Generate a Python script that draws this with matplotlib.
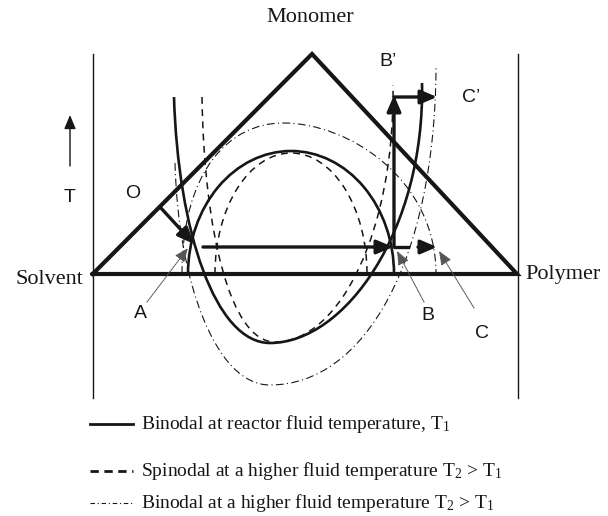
import matplotlib
matplotlib.use("Agg")
import matplotlib.pyplot as plt
from matplotlib.path import Path
from matplotlib.patches import PathPatch, Arc

plt.rcParams['mathtext.fontset'] = 'stix'

# drawing units: x to the right, y downwards (same as the page)
frame_x = [92.7, 518]
frame_y = [54, 398]

triangle = [(92.7, 274), (312, 54), (517, 274)]

# binodal at T1: lower U branch as two cubic segments, upper dome as half ellipse
binodal1_u = [(174, 97), (178, 230), (215, 343), (270, 343),
              (345, 343), (425, 230), (422, 83)]
binodal1_dome = (291, 274, 206, 246)   # centre x, centre y, width, height

# spinodal at T2
spinodal2_u = [(202, 97), (204, 230), (230, 342), (275, 342),
               (340, 342), (395, 230), (393, 85)]
spinodal2_dome = (291, 274, 152, 242)

# binodal at T2
binodal2_u = [(175, 163), (178, 280), (215, 385), (270, 385),
              (365, 385), (435, 260), (436, 68)]
binodal2_dome = [(182, 274), (182, 170), (230, 123), (283, 123),
                 (350, 123), (436, 180), (436, 274)]

# process path arrows (start, end)
path_arrows = [((160, 207), (194, 244)),
               ((203, 247), (393, 247)),
               ((418, 247), (437, 247)),
               ((394, 247), (394, 95)),
               ((394, 97), (437, 97))]
path_segments = [((395, 247), (408, 247))]

# pointer labels: (text, label position, arrow tip)
pointers = [('A', (147, 302), (188, 248)),
            ('B', (424, 302), (397, 251)),
            ('C', (474, 308), (439, 251))]
pointer_labels = [('A', (140, 313)), ('B', (428, 315)), ('C', (482, 333))]

point_labels = [('O', (133, 193)), ('B\u2019', (388, 62)), ('C\u2019', (471, 97)),
                ('T', (70, 198))]

legend_y = [424, 471, 503]
legend_text = [r'Binodal at reactor fluid temperature, $\mathregular{T_1}$',
               r'Spinodal at a higher fluid temperature $\mathregular{T_2}$ > $\mathregular{T_1}$',
               r'Binodal at a higher fluid temperature $\mathregular{T_2}$ > $\mathregular{T_1}$']

ink = '#161616'
solid_kw = dict(color=ink, lw=1.9, ls='-')
dash_kw = dict(color=ink, lw=1.1, ls=(0, (4.5, 3.5)))
dashdot_kw = dict(color=ink, lw=0.8, ls=(0, (7, 3, 1, 3)))

fig = plt.figure(figsize=(6.08, 5.16), dpi=100)
ax = fig.add_axes([0, 0, 1, 1])
ax.set_xlim(0, 608)
ax.set_ylim(516, 0)
ax.axis('off')


def bezier(points, **kw):
    codes = [Path.MOVETO] + [Path.CURVE4] * (len(points) - 1)
    ax.add_patch(PathPatch(Path(points, codes), fill=False, capstyle='butt', **kw))


def dome(spec, **kw):
    cx, cy, w, h = spec
    ax.add_patch(Arc((cx, cy), w, h, theta1=180, theta2=360, **kw))


# frame lines
for x in frame_x:
    ax.plot([x, x], frame_y, color=ink, lw=1.0)

# triangle
tx = [p[0] for p in triangle] + [triangle[0][0]]
ty = [p[1] for p in triangle] + [triangle[0][1]]
ax.plot(tx, ty, color=ink, lw=3.0, solid_joinstyle='miter')

# curves
bezier(binodal1_u, **solid_kw)
dome(binodal1_dome, **solid_kw)
bezier(spinodal2_u, **dash_kw)
dome(spinodal2_dome, **dash_kw)
bezier(binodal2_u, **dashdot_kw)
bezier(binodal2_dome, **dashdot_kw)

# process path
for start, end in path_arrows:
    ax.annotate('', xy=end, xytext=start,
                arrowprops=dict(arrowstyle='-|>,head_length=0.7,head_width=0.3',
                                color=ink, lw=2.4, shrinkA=0, shrinkB=0,
                                mutation_scale=14))
for start, end in path_segments:
    ax.plot([start[0], end[0]], [start[1], end[1]], color=ink, lw=2.4)

# pointers
for name, start, end in pointers:
    ax.annotate('', xy=end, xytext=start,
                arrowprops=dict(arrowstyle='-|>,head_length=0.6,head_width=0.25',
                                color='#555555', lw=0.8, ls=(0, (1, 1)),
                                shrinkA=0, shrinkB=0, mutation_scale=14))

sans = dict(family='Liberation Sans', fontsize=14, color=ink, ha='center', va='center')
for name, (x, y) in pointer_labels + point_labels:
    ax.text(x, y, name, **sans)

# temperature arrow
ax.annotate('', xy=(70, 115), xytext=(70, 166),
            arrowprops=dict(arrowstyle='-|>,head_length=0.6,head_width=0.25',
                            color=ink, lw=1.0, shrinkA=0, shrinkB=0,
                            mutation_scale=14))

serif = dict(family='Liberation Serif', color=ink, va='center')
ax.text(310, 18, 'Monomer', ha='center', fontsize=16, **serif)
ax.text(83, 280, 'Solvent', ha='right', fontsize=16, **serif)
ax.text(525, 275, 'Polymer', ha='left', fontsize=16, **serif)

# legend
styles = [dict(color=ink, lw=2.0, ls='-'),
          dict(color=ink, lw=2.0, ls=(0, (3, 2))),
          dict(color=ink, lw=0.8, ls=(0, (4, 2.5, 1, 2.5)))]
for y, txt, st in zip(legend_y, legend_text, styles):
    ax.plot([90, 133], [y, y], **st)
    ax.text(141, y, txt, ha='left', fontsize=14, **serif)

fig.savefig('out.png', dpi=100)
